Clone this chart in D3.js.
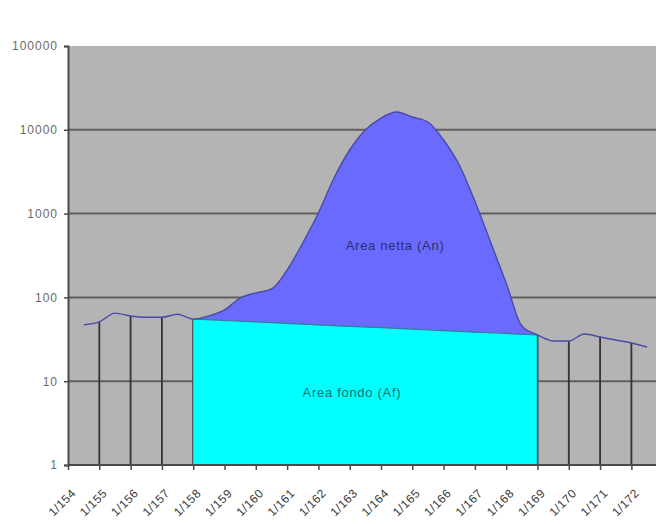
<!DOCTYPE html>
<html>
<head>
<meta charset="utf-8">
<script src="https://cdn.jsdelivr.net/npm/d3@7"></script>
<style>
  html, body { margin: 0; padding: 0; background: #fff; }
  svg { display: block; font-family: "Liberation Sans", Arial, sans-serif; }
</style>
</head>
<body>
<svg id="chart" width="656" height="524"></svg>
<script>
// Sample labels along the horizontal axis
const categories = ["1/154","1/155","1/156","1/157","1/158","1/159","1/160","1/161","1/162","1/163",
                    "1/164","1/165","1/166","1/167","1/168","1/169","1/170","1/171","1/172"];

// Total signal, sampled every half step (position given in category units)
const signalPos = [0.5, 1, 1.5, 2, 2.5, 3, 3.5, 4, 4.5, 5, 5.5, 6, 6.5, 7, 7.5, 8, 8.5, 9, 9.5,
                   10, 10.5, 11, 11.5, 12, 12.5, 13, 13.5, 14, 14.5, 15, 15.5, 16, 16.5, 17, 17.5, 18, 18.5];
const signalVal = [47, 51, 65, 60, 58, 58, 63, 55, 60, 71, 98, 113, 126, 212, 446, 1016, 2660, 5740, 9950,
                   13800, 16300, 14200, 12400, 7550, 3800, 1400, 458, 148, 45.6, 35.6, 30.2, 30.2, 36.6, 33.7, 31, 28.6, 25.6];

// Background level under the peak (integration window)
const basePos = [4, 5, 6, 7, 8, 9, 10, 11, 12, 13, 14, 15];
const baseVal = [55, 53, 51, 49, 47, 45, 43.5, 41.8, 40.2, 38.5, 37.1, 35.6];

// Log axis ticks
const yTicks = [1, 10, 100, 1000, 10000, 100000];
const yTickLabels = ["1", "10", "100", "1000", "10000", "100000"];

// Region labels and where they sit (category position, value)
const regionLabels = ["Area netta (An)", "Area fondo (Af)"];
const regionLabelPos = [10.45, 9.07];
const regionLabelVal = [420, 7.4];

const svg = d3.select("#chart");
const plot = { left: 68, top: 46, bottom: 465, right: 656 };

const x = d3.scaleLinear().domain([0, categories.length - 1]).range([plot.left, 631.4]);
const y = d3.scaleLog().domain([1, 100000]).range([plot.bottom, plot.top]);

const signal = signalPos.map((p, i) => ({ p, v: signalVal[i] }));
const base = basePos.map((p, i) => ({ p, v: baseVal[i] }));
const winStart = basePos[0], winEnd = basePos[basePos.length - 1];
const inWindow = signal.filter(d => d.p >= winStart && d.p <= winEnd);
const baseAt = p => {
  const j = d3.bisector(d => d.p).left(base, p);
  if (j <= 0) return base[0].v;
  if (j >= base.length) return base[base.length - 1].v;
  const a = base[j - 1], b = base[j], t = (p - a.p) / (b.p - a.p);
  return Math.exp(Math.log(a.v) + t * (Math.log(b.v) - Math.log(a.v)));
};

// Plot background
svg.append("rect")
  .attr("x", plot.left).attr("y", plot.top)
  .attr("width", plot.right - plot.left).attr("height", plot.bottom - plot.top)
  .attr("fill", "#b4b4b4");

// Horizontal gridlines
svg.append("g").selectAll("line")
  .data(yTicks.filter(t => t > 1 && t < 100000))
  .join("line")
  .attr("x1", plot.left).attr("x2", plot.right)
  .attr("y1", d => y(d)).attr("y2", d => y(d))
  .attr("stroke", "#5f5f5f").attr("stroke-width", 2);

// Drop lines from the signal to the axis
svg.append("g").selectAll("line")
  .data(signal.filter(d => Number.isInteger(d.p)))
  .join("line")
  .attr("x1", d => x(d.p)).attr("x2", d => x(d.p))
  .attr("y1", d => y(d.v)).attr("y2", plot.bottom)
  .attr("stroke", "#333").attr("stroke-width", 1.8);

// Background area (Af)
const areaBase = d3.area().x(d => x(d.p)).y0(plot.bottom).y1(d => y(d.v));
svg.append("path").datum(base)
  .attr("d", areaBase)
  .attr("fill", "#00ffff");

// Net area (An): between the background level and the signal
const areaNet = d3.area().curve(d3.curveMonotoneX)
  .x(d => x(d.p)).y0(d => y(baseAt(d.p))).y1(d => y(d.v));
svg.append("path").datum(inWindow)
  .attr("d", areaNet)
  .attr("fill", "#6a6aff");

// Outline of the background level
svg.append("path").datum(base)
  .attr("d", d3.line().x(d => x(d.p)).y(d => y(d.v)))
  .attr("fill", "none").attr("stroke", "#2f7f9a").attr("stroke-width", 1.2);
svg.append("line")
  .attr("x1", x(winEnd)).attr("x2", x(winEnd))
  .attr("y1", y(baseVal[baseVal.length - 1])).attr("y2", plot.bottom)
  .attr("stroke", "#2f5f6a").attr("stroke-width", 1.4);

// Signal line
svg.append("path").datum(signal)
  .attr("d", d3.line().curve(d3.curveMonotoneX).x(d => x(d.p)).y(d => y(d.v)))
  .attr("fill", "none").attr("stroke", "#4a4aa8").attr("stroke-width", 1.4);

// Axes
const yAxis = d3.axisLeft(y).tickValues(yTicks)
  .tickFormat((d, i) => yTickLabels[i]).tickSize(4).tickPadding(6);
const gy = svg.append("g").attr("transform", `translate(${plot.left},0)`).call(yAxis);
gy.select(".domain").attr("stroke", "#4a4a4a").attr("stroke-width", 2);
gy.selectAll(".tick line").attr("stroke", "#4a4a4a").attr("stroke-width", 1.5);
gy.selectAll(".tick text")
  .attr("fill", "#6a6a6a").attr("font-size", 12).attr("letter-spacing", 1)
  .attr("font-family", "Liberation Sans, Arial, sans-serif");

const xAxis = d3.axisBottom(x).tickValues(d3.range(categories.length))
  .tickFormat(i => categories[i]).tickSize(5);
const gx = svg.append("g").attr("transform", `translate(0,${plot.bottom})`).call(xAxis);
gx.select(".domain").attr("stroke", "#4a4a4a").attr("stroke-width", 2)
  .attr("d", `M${plot.left},0H${plot.right}`);
gx.selectAll(".tick line").attr("stroke", "#4a4a4a").attr("stroke-width", 1.5);
gx.selectAll(".tick text")
  .attr("fill", "#3a3a3a").attr("font-size", 12).attr("letter-spacing", 0.5)
  .attr("font-family", "Liberation Sans, Arial, sans-serif")
  .attr("text-anchor", "end")
  .attr("y", 0).attr("dy", 0)
  .attr("transform", "translate(8,29) rotate(-45)");

// Region labels
svg.append("g").selectAll("text")
  .data(regionLabels)
  .join("text")
  .attr("x", (d, i) => x(regionLabelPos[i]))
  .attr("y", (d, i) => y(regionLabelVal[i]))
  .attr("dy", "0.35em")
  .attr("text-anchor", "middle").attr("font-size", 13).attr("letter-spacing", 0.7)
  .attr("fill", (d, i) => i === 0 ? "#2e2e6e" : "#1e6e6e")
  .text(d => d);
</script>
</body>
</html>
